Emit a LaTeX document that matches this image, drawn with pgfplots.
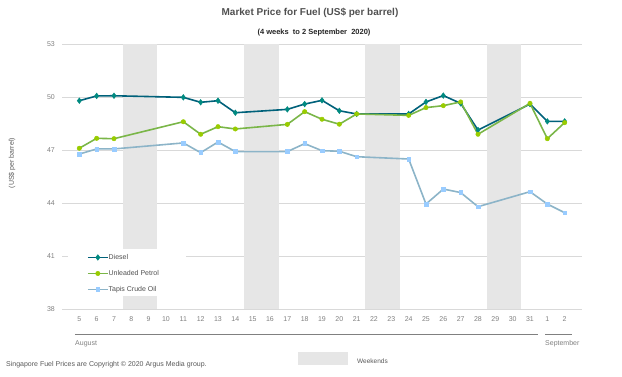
\documentclass[border=0pt]{standalone}
\usepackage{fontspec}
\setmainfont{Liberation Sans}
\usepackage{pgfplots}
\pgfplotsset{compat=1.18}
\definecolor{dieselline}{HTML}{00617A}
\definecolor{dieselmark}{HTML}{008A80}
\definecolor{petrolline}{HTML}{7AB648}
\definecolor{petrolmark}{HTML}{99CC00}
\definecolor{tapisline}{HTML}{8CB4C8}
\definecolor{tapismark}{HTML}{99CCFF}
\definecolor{bandc}{HTML}{E6E6E6}
\definecolor{gridc}{HTML}{D9D9D9}
\definecolor{ticktext}{HTML}{808080}
\definecolor{titletext}{HTML}{505050}
\definecolor{labeltext}{HTML}{595959}

\pgfplotstableread{
x y
0 49.79
1 50.06
2 50.07
6 49.98
7 49.70
8 49.79
9 49.11
12 49.30
13 49.60
14 49.81
15 49.22
16 49.04
19 49.04
20 49.72
21 50.08
22 49.64
23 48.13
26 49.60
27 48.62
28 48.62
}\diesel
\pgfplotstableread{
x y
0 47.10
1 47.66
2 47.64
6 48.60
7 47.89
8 48.32
9 48.19
12 48.45
13 49.17
14 48.74
15 48.46
16 49.04
19 48.96
20 49.40
21 49.51
22 49.72
23 47.89
26 49.64
27 47.64
28 48.55
}\petrol
\pgfplotstableread{
x y
0 46.77
1 47.06
2 47.06
6 47.40
7 46.85
8 47.45
9 46.91
12 46.91
13 47.36
14 46.96
15 46.93
16 46.62
19 46.49
20 43.94
21 44.79
22 44.59
23 43.79
26 44.64
27 43.94
28 43.45
}\tapis

\begin{document}
\begin{tikzpicture}[x=1pt,y=1pt]
\begin{axis}[
  at={(0,0)}, anchor=south west,
  scale only axis, width=520pt, height=265pt,
  xmin=-1, xmax=29, ymin=38, ymax=53,
  ytick={38,41,44,47,50,53},
  xtick={0,...,28},
  xticklabels={5,6,7,8,9,10,11,12,13,14,15,16,17,18,19,20,21,22,23,24,25,26,27,28,29,30,31,1,2},
  axis line style={draw=none},
  major tick length=0pt,
  ymajorgrids, grid style={gridc, line width=0.8pt},
  ticklabel style={font=\fontsize{7}{8}\selectfont, text=ticktext},
  /pgf/number format/assume math mode=true,
  yticklabel style={inner sep=0pt, xshift=-7pt},
  xticklabel style={inner sep=0pt, yshift=-7pt},
  legend style={at={(axis description cs:0.042,0.215)}, anchor=north west,
    draw=none, fill=none, font=\fontsize{7}{8}\selectfont, text=titletext,
    nodes={inner sep=0pt, text height=5pt, text depth=1.5pt},
    row sep=9.5pt,
    /tikz/every even column/.append style={column sep=2pt}},
  legend cell align=left,
  legend image code/.code={\draw[mark repeat=2,mark phase=2] plot coordinates {(0pt,0pt) (10pt,0pt) (20pt,0pt)};},
  clip=false,
]
\fill[bandc] (axis cs:2.5,38) rectangle (axis cs:4.5,53);
\fill[bandc] (axis cs:9.5,38) rectangle (axis cs:11.5,53);
\fill[bandc] (axis cs:16.5,38) rectangle (axis cs:18.5,53);
\fill[bandc] (axis cs:23.5,38) rectangle (axis cs:25.5,53);
\fill[white] (rel axis cs:6/520,13/265) rectangle (rel axis cs:124/520,60/265);
\addplot[dieselline, line width=1.6pt, mark=diamond*, mark size=2.8pt,
  mark options={fill=dieselmark, draw=dieselmark, line width=0.5pt}] table[x=x,y=y] {\diesel};
\addlegendentry{Diesel}
\addplot[petrolline, line width=1.6pt, mark=*, mark size=2.2pt,
  mark options={fill=petrolmark, draw=petrolmark, line width=0.5pt}] table[x=x,y=y] {\petrol};
\addlegendentry{Unleaded Petrol}
\addplot[tapisline, line width=1.6pt, mark=square*, mark size=1.9pt,
  mark options={fill=tapismark, draw=tapismark, line width=0.5pt}] table[x=x,y=y] {\tapis};
\addlegendentry{Tapis Crude Oil}
\end{axis}
\node[font=\bfseries\fontsize{10}{11}\selectfont, text=titletext] at (248,296) {Market Price for Fuel (US\$ per barrel)};
\node[font=\bfseries\fontsize{7.5}{8}\selectfont, text=black!85] at (252,276) {(4 weeks\ \ to 2 September\ \ 2020)};
\node[rotate=90, font=\fontsize{7}{8}\selectfont, text=labeltext] at (-50,146) {(US\$ per barrel)};
\draw[ticktext, line width=0.8pt] (13,-25) -- (476,-25);
\draw[ticktext, line width=0.8pt] (483,-25) -- (510,-25);
\node[anchor=west, inner sep=0pt, font=\fontsize{7}{8}\selectfont, text=ticktext] at (13,-35) {August};
\node[anchor=west, inner sep=0pt, font=\fontsize{7}{8}\selectfont, text=ticktext] at (483,-35) {September};
\fill[bandc] (236,-43) rectangle (286,-56);
\node[anchor=west, inner sep=0pt, font=\fontsize{6.5}{7}\selectfont, text=labeltext] at (295,-52) {Weekends};
\node[anchor=west, inner sep=0pt, font=\fontsize{7}{8}\selectfont, text=labeltext] at (-56,-56) {Singapore Fuel Prices are Copyright © 2020 Argus Media group.};
\pgfresetboundingbox
\useasboundingbox (-62,-68) rectangle (560,309);
\end{tikzpicture}
\end{document}
